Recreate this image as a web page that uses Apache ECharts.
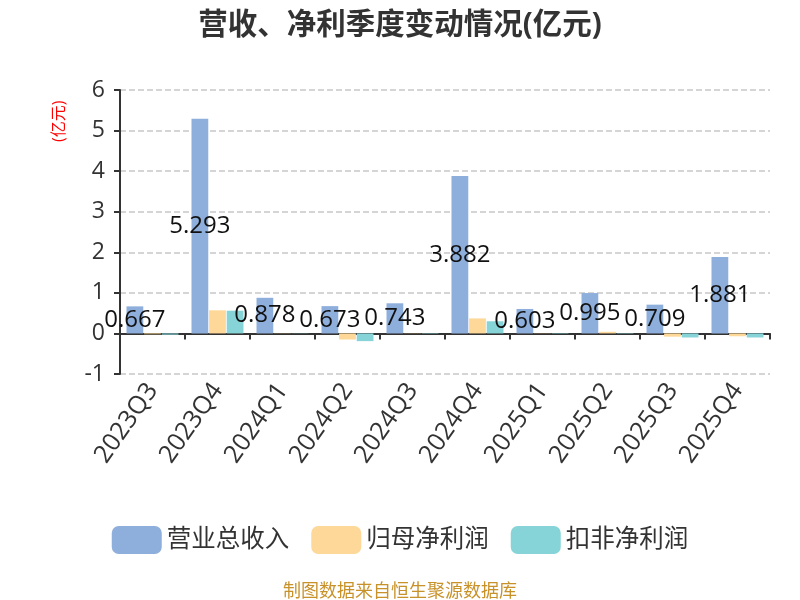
<!DOCTYPE html>
<html>
<head>
<meta charset="utf-8">
<script src="https://cdn.jsdelivr.net/npm/echarts@6/dist/echarts.min.js"></script>
<style>
  html, body { margin: 0; padding: 0; background: #fff; }
  #main { width: 800px; height: 600px; }
</style>
</head>
<body>
<div id="main"></div>
<script>
// 季度
var quarters = ['2023Q3', '2023Q4', '2024Q1', '2024Q2', '2024Q3', '2024Q4', '2025Q1', '2025Q2', '2025Q3', '2025Q4'];
// 营业总收入(亿元)
var revenue = [0.667, 5.293, 0.878, 0.673, 0.743, 3.882, 0.603, 0.995, 0.709, 1.881];
// 归母净利润(亿元)
var netProfit = [-0.02, 0.57, 0.005, -0.15, 0.005, 0.37, 0.005, 0.04, -0.08, -0.07];
// 扣非净利润(亿元)
var deductedProfit = [-0.03, 0.56, 0.005, -0.19, 0.01, 0.30, 0.01, 0.01, -0.10, -0.10];
var yTicks = { min: -1, max: 6, interval: 1 };

var fontFamily = '"Open Sans", "Noto Sans CJK SC", sans-serif';
var chart = echarts.init(document.getElementById('main'));

chart.setOption({
  textStyle: { fontFamily: fontFamily },
  color: ['#8eaedb', '#fed899', '#86d4d8'],
  title: [{
    text: '营收、净利季度变动情况(亿元)',
    left: 'center',
    top: 6,
    textStyle: { fontSize: 29.5, fontWeight: 'bold', color: '#333', fontFamily: fontFamily }
  }, {
    text: '制图数据来自恒生聚源数据库',
    left: 'center',
    top: 578,
    textStyle: { fontSize: 18, fontWeight: 'normal', color: '#c8922a', fontFamily: fontFamily }
  }],
  graphic: [{
    type: 'text',
    x: 51,
    y: 142,
    rotation: Math.PI / 2,
    style: { text: '(亿元)', fill: '#ff0000', fontSize: 16, fontFamily: fontFamily }
  }],
  legend: {
    top: 521,
    left: 'center',
    itemWidth: 50,
    itemHeight: 28,
    itemGap: 22,
    icon: 'roundRect',
    textStyle: { fontSize: 24.5, color: '#333', fontFamily: fontFamily },
    data: ['营业总收入', '归母净利润', '扣非净利润']
  },
  grid: { left: 120, right: 30, top: 90, bottom: 226 },
  xAxis: {
    type: 'category',
    data: quarters,
    axisLine: { onZero: true, lineStyle: { color: '#333', width: 2 } },
    axisTick: { show: true, length: 6, lineStyle: { color: '#333', width: 2 } },
    axisLabel: { rotate: 55, fontSize: 25, color: '#333', interval: 0, margin: 12 }
  },
  yAxis: {
    type: 'value',
    min: yTicks.min,
    max: yTicks.max,
    interval: yTicks.interval,
    axisLine: { show: true, lineStyle: { color: '#333', width: 2 } },
    axisTick: { show: true, length: 6, lineStyle: { color: '#333', width: 2 } },
    axisLabel: { fontSize: 23, color: '#333', margin: 15 },
    splitLine: { lineStyle: { type: 'dashed', color: '#c8c8c8', width: 1.5 } }
  },
  series: [{
    name: '营业总收入',
    type: 'bar',
    data: revenue,
    barGap: '5%',
    barCategoryGap: '20%',
    label: { show: true, position: 'inside', color: '#111', fontSize: 24, fontFamily: fontFamily }
  }, {
    name: '归母净利润',
    type: 'bar',
    data: netProfit
  }, {
    name: '扣非净利润',
    type: 'bar',
    data: deductedProfit
  }]
});
</script>
</body>
</html>
